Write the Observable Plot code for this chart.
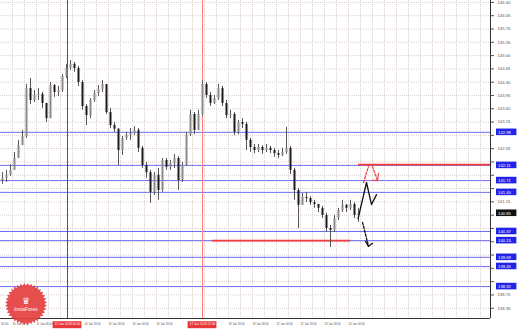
<!DOCTYPE html>
<html><head><meta charset="utf-8">
<script src="https://cdn.jsdelivr.net/npm/d3@7"></script>
<script src="https://cdn.jsdelivr.net/npm/@observablehq/plot@0.6"></script>
<style>
html,body{margin:0;padding:0;background:#fff;}
#wrap{position:relative;width:518px;height:331px;overflow:hidden;background:#fff;}
#logo{position:absolute;left:5px;top:283px;width:42px;height:42px;background:#e5403f;opacity:0.92;color:#fff;
 font-family:"Liberation Sans",sans-serif;display:flex;flex-direction:column;align-items:center;justify-content:center;}
#logo .ic{font-size:9px;line-height:9px;}
#logo .tx{font-size:5px;line-height:6px;}
</style></head><body><div id="wrap"></div>
<script>
// ---- data (prices) ----
const firstOpen = 141.71;
const closes = [141.77,141.85,141.98,142.29,142.63,142.87,144.13,143.82,143.95,143.98,
143.74,143.34,144.21,144.03,144.08,144.45,144.66,144.77,144.66,144.29,
143.66,143.42,143.82,144.00,144.11,144.24,143.50,143.16,143.06,142.50,
142.82,142.90,142.95,143.03,142.56,142.11,141.92,141.40,141.85,141.45,
142.24,142.06,142.16,142.29,141.71,142.11,142.90,143.45,143.03,143.45,
144.24,143.95,143.74,143.87,144.13,143.74,143.42,143.45,142.98,143.24,
143.19,142.77,142.58,142.50,142.58,142.50,142.56,142.50,142.42,142.37,
142.45,142.56,141.98,141.45,141.06,141.27,141.24,141.13,141.08,140.98,
140.79,140.45,140.40,140.71,140.92,141.06,140.98,141.08,140.79,140.85];
const highs = [141.92,141.98,142.13,142.45,142.77,143.03,144.24,144.40,144.08,144.13,
144.03,143.69,144.29,144.24,144.19,144.50,144.77,144.87,144.82,144.71,
144.34,143.71,143.87,144.08,144.21,144.34,144.24,143.61,143.24,143.08,
142.87,142.98,143.08,143.13,143.08,142.61,142.19,141.98,141.92,142.03,
142.29,142.29,142.24,142.40,142.34,142.19,142.98,143.56,143.50,143.56,
144.34,144.29,144.03,143.95,144.24,144.19,143.82,143.56,143.50,143.29,
143.34,143.24,142.82,142.66,142.66,142.63,142.66,142.61,142.56,142.50,
142.56,143.11,142.61,142.03,141.50,141.37,141.40,141.29,141.19,141.08,
141.03,140.85,140.53,140.79,140.98,141.19,141.08,141.19,141.13,140.98];
const lows = [141.61,141.66,141.82,142.13,142.45,142.71,142.82,143.71,143.77,143.82,
143.61,143.24,143.56,143.90,143.92,144.03,144.40,144.61,144.56,144.19,
143.56,143.16,143.34,143.77,143.92,144.03,143.45,143.08,142.98,142.11,
142.37,142.77,142.77,142.90,142.45,142.03,141.77,141.11,141.32,141.19,
141.40,141.98,141.98,142.03,141.45,141.66,142.08,142.87,142.92,143.03,
143.40,143.87,143.66,143.71,143.82,143.66,143.34,143.34,142.90,142.92,
143.08,142.50,142.45,142.42,142.45,142.40,142.45,142.42,142.32,142.29,
142.34,142.40,141.87,141.19,140.45,141.06,141.13,141.06,140.98,140.87,
140.71,140.34,139.95,140.34,140.66,140.87,140.87,140.92,140.71,140.61];

const yTicks = [146.40,146.05,145.70,145.35,145.00,144.65,144.30,143.95,143.60,143.25,142.90,142.55,
142.20,141.85,141.50,141.15,140.80,140.45,140.10,139.75,139.40,139.05,138.70,138.35];
const xTickPos = [-0.3,2.5,8.5,20.5,26.5,32.5,38.5,56.5,62.5,68.5,74.5,80.5,86.5];
const xTickLabels = ["00:00","10 Jan 16:00","11 Jan 08:00","14 Jan 16:00","15 Jan 08:00",
"16 Jan 00:00","16 Jan 16:00","18 Jan 16:00","19 Jan 08:00","22 Jan 00:00",
"22 Jan 16:00","23 Jan 08:00","24 Jan 00:00"];

const blueLevels = [142.98,142.11,141.71,141.40,140.37,140.13,139.69,139.45,138.92];
const redLevels = [{price:142.13, from:89, to:122},{price:140.13, from:52.5, to:87}];
const vLines = [{i:16.25, color:"#555555", label:"12 Jan 2018 04:00"},{i:50, color:"#ff7b7b", label:"17 Jan 2018 22:00"}];

const blackSolid = [{i:88.9,p:140.71},{i:91,p:141.66},{i:92.25,p:141.08},{i:93.5,p:141.34}];
const blackDashed = [{i:90,p:140.61},{i:91.5,p:139.98}];
const blackDashedHead = [{i:90.75,p:140.11},{i:91.5,p:139.98},{i:92.5,p:140.06}];
const redUp = [{i:90.25,p:141.66},{i:91.5,p:142.08}];
const redDown = [{i:92.5,p:142.08},{i:93.75,p:141.71}];
const redHead = [{i:92.4,p:141.72},{i:93.75,p:141.71},{i:94,p:141.90}];

// ---- build ----
const bars = closes.map((c,i)=>{const o = i===0 ? firstOpen : closes[i-1];
  return {i, open:o, close:c, high:Math.max(highs[i],o,c), low:Math.min(lows[i],o,c)};});
const last = bars[bars.length-1];
const yDomain = [138.08,146.45];
const plotH = 318;
const pxPerUnit = plotH/(yDomain[1]-yDomain[0]);
const half = 3.3/pxPerUnit;
const axX1 = 123.5, axX2 = 128.6; // right price-axis strip in bar units
const timeBoxY1 = yDomain[0] - 3.2/pxPerUnit, timeBoxY2 = yDomain[0] - 10.2/pxPerUnit;
const gridColor = "#d9cfcf";
const font = "Liberation Sans";
const boxed = blueLevels.concat([last.close]);
const yLabelTicks = yTicks.filter(t => !boxed.some(b => Math.abs(b-t)*pxPerUnit < 7));

const chart = Plot.plot({
  width:518, height:331,
  marginTop:0, marginLeft:0, marginRight:28, marginBottom:13,
  x:{domain:[-0.5,122], axis:null},
  y:{domain:yDomain, axis:null},
  style:{background:"#fff", fontFamily:font},
  marks:[
    Plot.gridY(yTicks, {stroke:gridColor, strokeOpacity:1, strokeDasharray:"1,1"}),
    Plot.gridX(d3.range(2.5,122,3), {stroke:gridColor, strokeOpacity:1, strokeDasharray:"1,1"}),
    Plot.ruleY(blueLevels, {stroke:"#6e6ef6", strokeWidth:1}),
    Plot.ruleX(vLines, {x:"i", stroke:"color", strokeWidth:1}),
    Plot.ruleY(redLevels, {y:"price", x1:"from", x2:"to", stroke:"#f23a3a", strokeWidth:1.6}),
    Plot.ruleX(bars, {x:"i", y1:"low", y2:"high", stroke:"#555", strokeWidth:1}),
    Plot.ruleX(bars, {x:"i", y1:"open", y2:"close", stroke:d=>d.close>=d.open?"#8a8a8a":"#1a1a1a", strokeWidth:2}),
    Plot.line(blackSolid, {x:"i", y:"p", stroke:"#111", strokeWidth:1.3}),
    Plot.line(blackDashed, {x:"i", y:"p", stroke:"#111", strokeWidth:1.3, strokeDasharray:"2.5,1.5"}),
    Plot.line(blackDashedHead, {x:"i", y:"p", stroke:"#111", strokeWidth:1.2}),
    Plot.line(redUp, {x:"i", y:"p", stroke:"#f23a3a", strokeWidth:1.2, strokeDasharray:"2.5,1.5"}),
    Plot.line(redDown, {x:"i", y:"p", stroke:"#f23a3a", strokeWidth:1.2, strokeDasharray:"2.5,1.5"}),
    Plot.line(redHead, {x:"i", y:"p", stroke:"#f23a3a", strokeWidth:1.1}),
    // frame lines
    Plot.ruleX([122], {stroke:"#333"}),
    Plot.ruleY([yDomain[0]], {stroke:"#333", x1:-0.5, x2:122}),
    // price axis
    Plot.axisY(yTicks, {anchor:"right", tickSize:3, text:null, stroke:"#555", label:null}),
    Plot.text(yLabelTicks, {y:d=>d, frameAnchor:"right", dx:7, textAnchor:"start", text:d=>d.toFixed(2), fontSize:4.2, fill:"#555"}),
    Plot.rect(blueLevels, {x1:()=>axX1, x2:()=>axX2, y1:d=>d-half, y2:d=>d+half, fill:"#2323e6"}),
    Plot.text(blueLevels, {x:()=>axX1+0.4, y:d=>d, text:d=>d.toFixed(2), fill:"#fff", fontSize:4.2, textAnchor:"start"}),
    Plot.rect([last], {x1:()=>axX1, x2:()=>axX2, y1:d=>d.close-half, y2:d=>d.close+half, fill:"#111"}),
    Plot.text([last], {x:()=>axX1+0.4, y:"close", text:d=>d.close.toFixed(2), fill:"#fff", fontSize:4.2, textAnchor:"start"}),
    // time axis
    Plot.text(xTickPos, {x:d=>d, text:(d,i)=>xTickLabels[i], frameAnchor:"bottom", dy:6.5, textAnchor:"start", fontSize:2.8, fill:"#555"}),
    Plot.rect(vLines, {x1:d=>d.i-3.6, x2:d=>d.i+3.6, y1:()=>timeBoxY1, y2:()=>timeBoxY2, fill:"#e8363a"}),
    Plot.text(vLines, {x:"i", text:"label", frameAnchor:"bottom", dy:6.7, fill:"#fff", fontSize:3.1})
  ]
});
document.getElementById("wrap").appendChild(chart);

// logo badge
const logo = document.createElement("div");
logo.id = "logo";
const pts = d3.range(72).map(k=>{const a=k/72*2*Math.PI, r=(k%2?50:44);
  return `${(50+r*Math.cos(a)).toFixed(1)}% ${(50+r*Math.sin(a)).toFixed(1)}%`;});
logo.style.clipPath = `polygon(${pts.join(",")})`;
logo.innerHTML = '<div class="ic">♛</div><div class="tx">InstaForex</div>';
document.getElementById("wrap").appendChild(logo);
</script>
</body></html>
